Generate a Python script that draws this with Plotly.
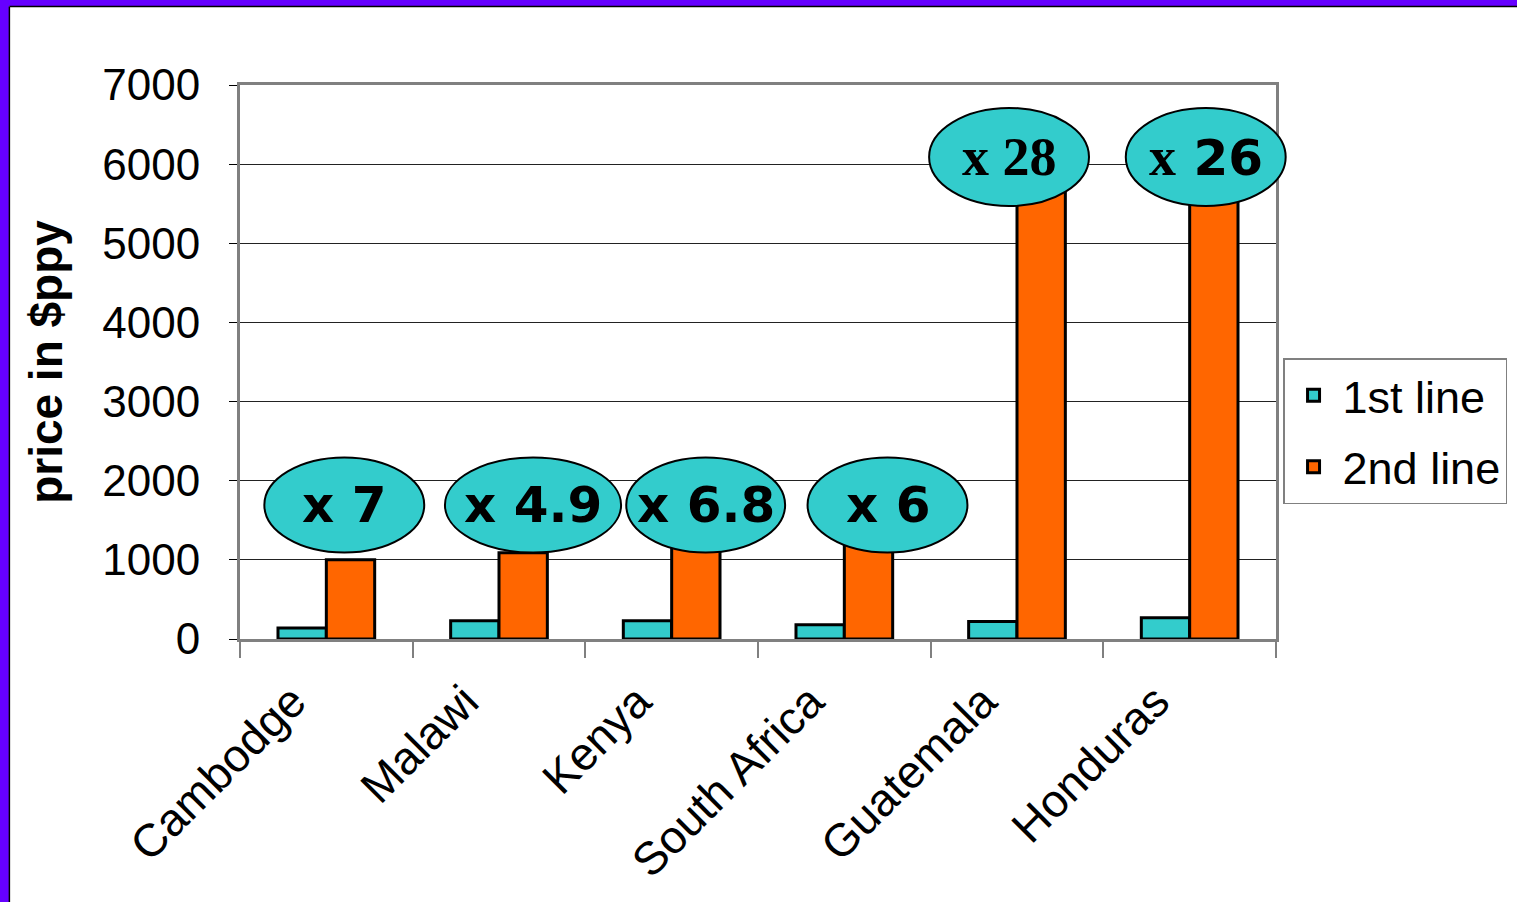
import plotly.graph_objects as go

# ---- data ----
countries = ["Cambodge", "Malawi", "Kenya", "South Africa", "Guatemala", "Honduras"]
first_line = [140, 230, 230, 180, 220, 270]
second_line = [1000, 1090, 1560, 1200, 6160, 6000]
ratio_labels = ["x 7", "x 4.9", "x 6.8", "x 6", "x 28", "x 26"]
y_ticks = [0, 1000, 2000, 3000, 4000, 5000, 6000, 7000]
Y_MAX = 7000

# ---- callout (ellipse) placement, in category / value units ----
ell_dx = [0.104, 0.197, 0.197, 0.25, -0.046, 0.093]
ell_w = [0.926, 1.02, 0.92, 0.926, 0.926, 0.926]
ell_y = [1693, 1693, 1693, 1693, 6090, 6090]
ell_h = [1200, 1200, 1200, 1200, 1240, 1240]

CYAN = "#33CCCC"
ORANGE = "#FF6600"
PURPLE = "#6600FF"
COMIC = "Comic Sans MS, DejaVu Sans, sans-serif"
SERIF = "Liberation Serif, Times New Roman, serif"
ARIAL = "Liberation Sans, Arial, sans-serif"

fig = go.Figure()
fig.add_trace(go.Bar(
    x=countries, y=first_line, name="1st line",
    marker=dict(color=CYAN, line=dict(color="black", width=3)),
    legendgroup="a",
))
fig.add_trace(go.Bar(
    x=countries, y=second_line, name="2nd line",
    marker=dict(color=ORANGE, line=dict(color="black", width=3)),
    legendgroup="b",
))

n = len(countries)


def xp(c):  # category units -> paper
    return (c + 0.5) / n


def yp(v):  # value -> paper
    return v / Y_MAX


shapes = []
annotations = []
for i, lab in enumerate(ratio_labels):
    cx = i + ell_dx[i]
    shapes.append(dict(
        type="circle", xref="paper", yref="paper",
        x0=xp(cx - ell_w[i] / 2), x1=xp(cx + ell_w[i] / 2),
        y0=yp(ell_y[i] - ell_h[i] / 2), y1=yp(ell_y[i] + ell_h[i] / 2),
        fillcolor=CYAN, line=dict(color="black", width=2), layer="above",
    ))
    if i == 4:
        text = lab
        fam = SERIF
        size = 54
    elif i == 5:
        a, b = lab.split(" ")
        text = ("<span style='font-family:%s;font-size:54px'>%s</span> %s" % (SERIF, a, b))
        fam = COMIC
        size = 50
    else:
        text = lab
        fam = COMIC
        size = 50
    annotations.append(dict(
        x=xp(cx), y=yp(ell_y[i]), xref="paper", yref="paper", text="<b>%s</b>" % text,
        showarrow=False, font=dict(family=fam, size=size, color="black"),
        xanchor="center", yanchor="middle",
    ))

# Frame: purple band on top and left of the slide
shapes += [
    dict(type="rect", xref="paper", yref="paper", x0=-0.2317, x1=1.24, y0=1.1426, y1=1.16,
         fillcolor=PURPLE, line=dict(width=0), layer="above"),
    dict(type="rect", xref="paper", yref="paper", x0=-0.24, x1=-0.2230, y0=-0.5, y1=1.16,
         fillcolor=PURPLE, line=dict(width=0), layer="above"),
    dict(type="line", xref="paper", yref="paper", x0=-0.2226, x1=1.24, y0=1.1417, y1=1.1417,
         line=dict(color="black", width=1.5), layer="above"),
    dict(type="line", xref="paper", yref="paper", x0=-0.2226, x1=-0.2226, y0=-0.5, y1=1.1417,
         line=dict(color="black", width=1.5), layer="above"),
]

fig.update_layout(
    width=1517, height=902,
    margin=dict(l=240, r=241, t=85, b=263, autoexpand=False),
    paper_bgcolor="white", plot_bgcolor="white",
    barmode="group", bargap=0.44, bargroupgap=0,
    font=dict(family=ARIAL, size=44, color="black"),
    shapes=shapes, annotations=annotations,
    legend=dict(
        x=1.0068, y=0.5072, xanchor="left", yanchor="top",
        bordercolor="#808080", borderwidth=1.5, bgcolor="white",
        font=dict(family=ARIAL, size=45, color="black"),
        traceorder="grouped", tracegroupgap=10, itemwidth=48,
    ),
    xaxis=dict(
        type="category", range=[-0.5, n - 0.5], tickangle=-45, tickson="boundaries",
        ticks="outside", ticklen=16, tickcolor="#808080", tickwidth=1.5,
        showline=True, linecolor="#808080", linewidth=3, mirror=True,
        showgrid=False, tickfont=dict(family=ARIAL, size=46),
        ticklabelshift=-34, ticklabelstandoff=14,
    ),
    yaxis=dict(
        range=[0, Y_MAX], tickvals=y_ticks, ticktext=[str(v) for v in y_ticks],
        ticks="outside", ticklen=8, tickcolor="black", tickwidth=1,
        showline=True, linecolor="#808080", linewidth=3, mirror=True,
        showgrid=True, gridcolor="#222222", gridwidth=1,
        zeroline=False, ticklabelstandoff=20,
        tickfont=dict(family=ARIAL, size=44),
        title=dict(text="<b>price in $ppy</b>", font=dict(family=ARIAL, size=46), standoff=26),
    ),
)

fig.write_html("out.html")
